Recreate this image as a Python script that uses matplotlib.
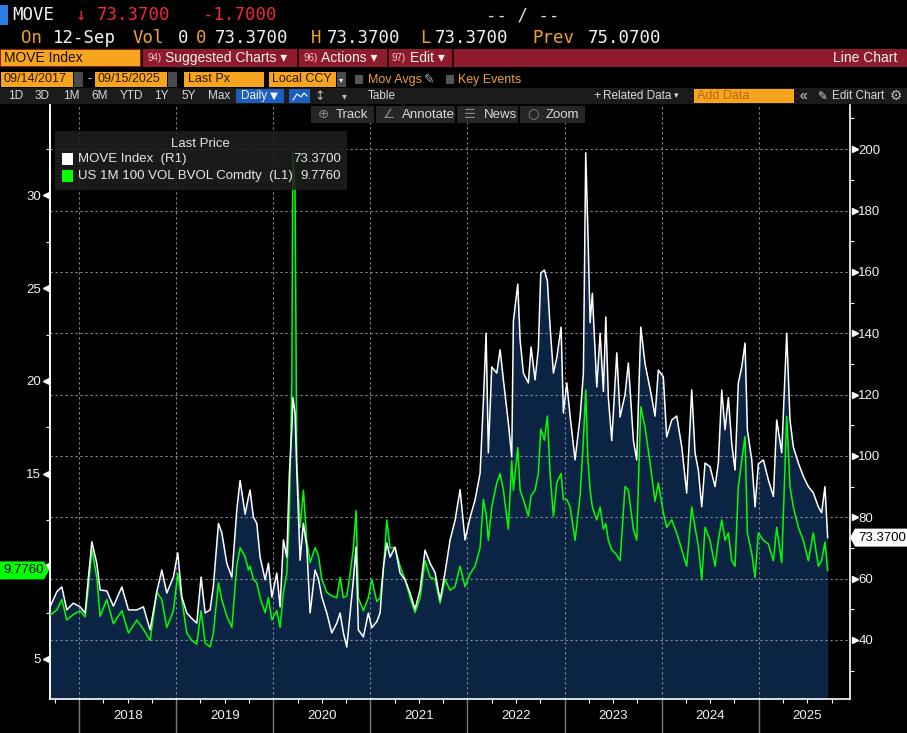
import matplotlib
matplotlib.use('Agg')
import matplotlib.pyplot as plt
from matplotlib.patches import Rectangle, Polygon
from matplotlib.lines import Line2D
import matplotlib.transforms as mtransforms
import numpy as np

# decimal years
t_years = [
    2017.701, 2017.770, 2017.822, 2017.873, 2017.940, 2018.010, 2018.062, 2018.096, 2018.131, 2018.182,
    2018.216, 2018.285, 2018.353, 2018.440, 2018.508, 2018.594, 2018.662, 2018.731, 2018.800, 2018.852,
    2018.903, 2018.971, 2019.016, 2019.058, 2019.109, 2019.161, 2019.212, 2019.256, 2019.298, 2019.349,
    2019.383, 2019.435, 2019.470, 2019.521, 2019.573, 2019.624, 2019.658, 2019.710, 2019.744, 2019.761,
    2019.795, 2019.830, 2019.864, 2019.916, 2019.950, 2019.985, 2020.036, 2020.070, 2020.104, 2020.139,
    2020.166, 2020.191, 2020.201, 2020.224, 2020.242, 2020.276, 2020.310, 2020.345, 2020.379, 2020.430,
    2020.464, 2020.500, 2020.551, 2020.602, 2020.654, 2020.688, 2020.722, 2020.757, 2020.791, 2020.825,
    2020.853, 2020.876, 2020.928, 2020.979, 2021.014, 2021.066, 2021.100, 2021.134, 2021.169, 2021.203,
    2021.254, 2021.306, 2021.357, 2021.409, 2021.460, 2021.512, 2021.563, 2021.615, 2021.666, 2021.718,
    2021.769, 2021.821, 2021.872, 2021.924, 2021.975, 2022.027, 2022.078, 2022.130, 2022.164, 2022.192,
    2022.215, 2022.250, 2022.302, 2022.336, 2022.370, 2022.421, 2022.456, 2022.473, 2022.518, 2022.542,
    2022.576, 2022.627, 2022.655, 2022.696, 2022.730, 2022.755, 2022.792, 2022.823, 2022.851, 2022.885,
    2022.920, 2022.964, 2022.988, 2023.023, 2023.057, 2023.108, 2023.160, 2023.194, 2023.218, 2023.239,
    2023.263, 2023.286, 2023.332, 2023.366, 2023.400, 2023.425, 2023.451, 2023.486, 2023.538, 2023.572,
    2023.623, 2023.657, 2023.709, 2023.743, 2023.785, 2023.829, 2023.880, 2023.932, 2023.966, 2024.017,
    2024.052, 2024.104, 2024.155, 2024.207, 2024.258, 2024.310, 2024.344, 2024.378, 2024.413, 2024.447,
    2024.498, 2024.550, 2024.584, 2024.619, 2024.653, 2024.687, 2024.722, 2024.756, 2024.790, 2024.825,
    2024.859, 2024.883, 2024.928, 2024.962, 2024.996, 2025.048, 2025.099, 2025.151, 2025.185, 2025.237,
    2025.288, 2025.322, 2025.356, 2025.408, 2025.459, 2025.511, 2025.562, 2025.614, 2025.648, 2025.682,
    2025.710,
]

# MOVE Index (right axis)
move_idx = [
    50.8, 55.7, 57.3, 49.8, 52.0, 50.8, 48.8, 60.5, 72.0, 65.0,
    56.3, 56.0, 51.0, 57.3, 49.8, 49.8, 50.8, 43.3, 55.7, 62.8,
    55.3, 60.5, 68.4, 54.0, 48.8, 47.0, 45.5, 60.5, 48.8, 49.8,
    57.6, 78.0, 74.9, 65.0, 60.5, 82.4, 92.0, 81.0, 86.6, 88.9,
    80.0, 78.0, 67.0, 59.6, 65.0, 54.0, 61.8, 50.8, 72.6, 67.0,
    94.4, 109.0, 119.0, 114.0, 95.0, 66.0, 78.0, 70.3, 48.8, 62.8,
    60.0, 54.0, 48.8, 42.3, 45.5, 48.8, 42.3, 37.7, 48.8, 59.6,
    70.3, 43.3, 41.0, 48.8, 44.0, 46.0, 48.8, 63.8, 71.6, 67.0,
    70.3, 61.8, 59.6, 55.3, 50.0, 56.4, 69.3, 65.0, 62.0, 53.0,
    62.0, 72.6, 79.0, 89.0, 72.6, 80.0, 85.6, 94.4, 118.0, 140.0,
    101.0, 129.0, 127.0, 134.6, 124.8, 110.8, 99.7, 144.0, 156.0, 137.8,
    127.0, 123.8, 135.5, 124.8, 135.0, 159.6, 160.6, 157.0, 142.0, 127.0,
    132.0, 142.0, 114.0, 123.8, 113.0, 98.7, 112.7, 127.0, 198.8, 174.7,
    143.4, 153.0, 122.5, 140.0, 121.0, 145.3, 119.0, 105.0, 133.6, 112.7,
    120.0, 130.3, 105.0, 98.7, 142.0, 130.0, 122.0, 113.0, 128.0, 125.8,
    106.2, 111.7, 113.0, 103.0, 87.9, 121.5, 101.0, 95.4, 83.4, 97.7,
    96.5, 90.0, 97.7, 121.5, 108.5, 119.0, 104.0, 95.4, 123.8, 129.0,
    136.8, 108.5, 98.7, 83.4, 97.4, 98.7, 92.2, 86.8, 111.7, 101.0,
    140.0, 111.7, 103.0, 97.7, 93.4, 90.0, 88.0, 83.4, 81.5, 90.0,
    73.37,
]

# US 1M 100 VOL BVOL Comdty (left axis)
bvol_1m = [
    7.37, 7.64, 8.2, 7.1, 7.4, 7.6, 7.27, 8.9, 10.9, 9.4,
    7.3, 8.2, 6.9, 7.6, 6.4, 7.1, 6.6, 6.0, 8.6, 8.2,
    6.7, 7.6, 9.6, 8.2, 6.4, 6.0, 5.8, 7.6, 5.86, 5.65,
    6.4, 9.1, 8.2, 7.3, 6.7, 10.0, 11.0, 10.5, 9.8, 10.0,
    9.3, 9.1, 8.3, 7.5, 8.3, 7.1, 7.6, 6.7, 8.6, 9.6,
    12.9, 20.0, 32.3, 30.3, 15.6, 12.1, 14.1, 11.4, 10.2, 11.0,
    10.6, 9.3, 8.6, 8.4, 8.3, 9.4, 8.3, 8.4, 9.6, 11.0,
    13.0, 8.3, 7.6, 8.3, 9.3, 8.1, 8.3, 9.8, 12.5, 11.0,
    11.0, 10.0, 9.3, 8.3, 7.5, 8.3, 10.3, 9.4, 9.3, 8.0,
    9.3, 8.7, 8.9, 10.0, 8.9, 9.6, 10.0, 11.0, 13.6, 12.8,
    11.4, 13.2, 14.5, 15.0, 14.1, 12.0, 15.7, 14.1, 16.4, 14.1,
    13.6, 12.7, 13.8, 14.1, 15.0, 17.4, 16.8, 18.1, 15.0, 12.7,
    14.5, 15.0, 13.6, 13.6, 13.2, 11.4, 13.8, 16.8, 19.5, 15.9,
    14.1, 13.2, 12.5, 13.2, 12.0, 12.3, 11.4, 10.9, 10.6, 10.3,
    14.3, 14.1, 12.0, 11.4, 18.6, 17.5, 15.6, 13.5, 14.5, 12.9,
    12.1, 12.5, 11.8, 10.9, 10.0, 13.2, 12.1, 11.1, 9.26, 12.1,
    11.4, 10.0, 11.4, 12.5, 11.4, 11.8, 10.3, 10.0, 14.3, 15.7,
    17.0, 11.8, 10.7, 9.4, 11.8, 11.4, 11.2, 10.3, 12.1, 10.2,
    18.1, 14.3, 13.2, 12.1, 11.4, 10.3, 11.8, 10.0, 10.3, 11.3,
    9.776,
]

year_labels = [2018, 2019, 2020, 2021, 2022, 2023, 2024, 2025]
right_ticks = [40, 60, 80, 100, 120, 140, 160, 180, 200]
left_ticks = [5, 10, 15, 20, 25, 30]

W, H = 907, 733
M_LO, M_HI = 20.76, 214.4
B_LO, B_HI = 2.84, 34.88
K = (B_HI - B_LO) / (M_HI - M_LO)


def m2b(m):
    return B_LO + (np.asarray(m) - M_LO) * K


def b2m(b):
    return M_LO + (np.asarray(b) - B_LO) / K


def ypix(m):
    # pixel row of a right-axis value (axes spans rows 105..699)
    return 699 - (m - M_LO) / (M_HI - M_LO) * 594


WHITE = '#f2f2f2'
ORANGE = '#f0a030'
RED = '#f0283c'
BOX_OR = '#f7a41f'
MONO = ['DejaVu Sans Mono', 'DejaVu Sans']
SANS = ['Liberation Sans', 'DejaVu Sans']
SYM = ['DejaVu Sans']

fig = plt.figure(figsize=(W / 100, H / 100), dpi=100, facecolor='black')


def box(x0, y0, x1, y1, color, **kw):
    fig.add_artist(Rectangle((x0 / W, 1 - y1 / H), (x1 - x0) / W, (y1 - y0) / H,
                             transform=fig.transFigure, facecolor=color,
                             edgecolor='none', **kw))


def txt(x, y, s, color, size, ha='left', family=SANS, **kw):
    fig.text(x / W, 1 - y / H, s, color=color, fontsize=size, ha=ha, va='center',
             family=family, **kw)


# ---- chart ----
ax = fig.add_axes([50 / W, 1 - 699 / H, 800 / W, 594 / H])
ax.set_facecolor('black')

t = np.array(t_years)
mv = np.array(move_idx)
bv_m = b2m(np.array(bvol_1m))

ax.fill_between(t, M_LO, np.maximum(mv, bv_m), color='#0c2444', lw=0, zorder=1)
ax.plot(t, bv_m, color='#00ff00', lw=1.1, zorder=3)
ax.plot(t, mv, color='white', lw=1.1, zorder=4)

ax.set_xlim(2017.70, 2025.94)
ax.set_ylim(M_LO, M_HI)
ax.set_axisbelow('line')

for s in ['left', 'right', 'bottom']:
    ax.spines[s].set_color('white')
    ax.spines[s].set_linewidth(1.2)
ax.spines['top'].set_visible(False)

# right axis: MOVE
ax.yaxis.tick_right()
ax.set_yticks(right_ticks)
ax.set_yticks(np.arange(30, 211, 10), minor=True)
ax.tick_params(axis='y', which='major', length=0, pad=6, labelcolor=WHITE, labelsize=9.5)
ax.tick_params(axis='y', which='minor', length=3, color='white', width=0.8)
for lab in ax.get_yticklabels():
    lab.set_family(SANS)

# left axis: BVOL (the 10 label sits under the last-value tag)
sec = ax.secondary_yaxis('left', functions=(m2b, b2m))
sec.set_yticks(left_ticks, labels=['' if v == 10 else str(v) for v in left_ticks])
sec.set_yticks(np.arange(2.5, 35, 2.5), minor=True)
sec.tick_params(which='major', length=0, pad=6.5, labelcolor=WHITE, labelsize=9.5)
sec.tick_params(which='minor', length=3, color='white', width=0.8)
sec.spines['left'].set_color('white')
sec.spines['left'].set_linewidth(1.2)
for lab in sec.get_yticklabels():
    lab.set_family(SANS)

# little triangles on the major ticks
tr_r = mtransforms.blended_transform_factory(ax.transAxes, ax.transData) + \
    mtransforms.ScaledTranslation(0.045, 0, fig.dpi_scale_trans)
tr_l = mtransforms.blended_transform_factory(ax.transAxes, ax.transData) + \
    mtransforms.ScaledTranslation(-0.045, 0, fig.dpi_scale_trans)
ax.plot(np.ones(len(right_ticks)), right_ticks, ls='none', marker='>', ms=4,
        color='white', clip_on=False, transform=tr_r)
ax.plot(np.zeros(len(left_ticks)), b2m(left_ticks), ls='none', marker='<', ms=4,
        color='white', clip_on=False, transform=tr_l)

# grid
ax.set_xticks(year_labels)
ax.set_xticks(np.arange(2017.75, 2026, 0.25), minor=True)
ax.tick_params(axis='x', which='major', length=25, color='#7c7c7c', width=1, labelbottom=False)
ax.tick_params(axis='x', which='minor', length=3, color='white', width=0.8)
ax.grid(True, which='major', color='#8a8a9a', lw=0.8, ls=(0, (2, 2.5)))

xl_tr = mtransforms.blended_transform_factory(ax.transData, ax.transAxes)
for yr in year_labels:
    ax.text(yr + 0.5, -0.029, str(yr), transform=xl_tr, ha='center', va='center',
            color=WHITE, fontsize=9.5, family=SANS)

# ---- header ----
box(0, 5, 8, 25, '#2a7de1')
txt(12, 15, 'MOVE', WHITE, 12.5, family=MONO)
txt(76, 15, '\u2193', RED, 12.5, family=MONO)
txt(97, 15, '73.3700', RED, 12.5, family=MONO)
txt(203, 15, '-1.7000', RED, 12.5, family=MONO)
txt(486, 15, '-- / --', '#d8d8d8', 12.5, family=MONO)

row2 = [(21, 'On', ORANGE), (53, '12-Sep', WHITE), (133, 'Vol', ORANGE),
        (178, '0', WHITE), (196, '0', ORANGE), (215, '73.3700', WHITE),
        (311, 'H', ORANGE), (327, '73.3700', WHITE), (420, 'L', ORANGE),
        (435, '73.3700', WHITE), (532, 'Prev', ORANGE), (588, '75.0700', WHITE)]
for x, s, c in row2:
    txt(x, 38, s, c, 12.5, family=MONO)

# menu bar
box(0, 49, W, 67, '#8e1b2c')
for x in [141, 297, 387, 452]:
    box(x, 49, x + 2, 67, '#2a0508')
box(1, 50, 140, 66, BOX_OR)
txt(4, 58, 'MOVE Index', '#1a1000', 10)
txt(147, 58, '94)', '#f0c8c8', 7)
txt(165, 58, 'Suggested Charts \u25be', WHITE, 10)
txt(303, 58, '96)', '#f0c8c8', 7)
txt(321, 58, 'Actions \u25be', WHITE, 10)
txt(392, 58, '97)', '#f0c8c8', 7)
txt(410, 58, 'Edit \u25be', WHITE, 10)
txt(897, 58, 'Line Chart', WHITE, 10, ha='right')

# date row
DARK = '#2a1800'
box(1, 72, 73, 87, BOX_OR)
txt(3, 79.5, '09/14/2017', DARK, 9)
box(74, 72, 83, 87, '#4a4a4a')
txt(88, 79.5, '-', WHITE, 9)
box(95, 72, 167, 87, BOX_OR)
txt(97, 79.5, '09/15/2025', DARK, 9)
box(168, 72, 177, 87, '#4a4a4a')
box(184, 72, 264, 87, BOX_OR)
txt(188, 79.5, 'Last Px', DARK, 9)
box(269, 72, 336, 87, BOX_OR)
txt(272, 79.5, 'Local CCY', DARK, 9)
box(337, 72, 346, 87, '#4a4a4a')
txt(341.5, 79.5, '\u25be', WHITE, 6, ha='center', family=SYM)
box(355, 75, 363, 84, '#555555')
txt(368, 79.5, 'Mov Avgs', ORANGE, 9)
txt(424, 79.5, '\u270e', '#aaaaaa', 9, family=SYM)
box(446, 75, 454, 84, '#555555')
txt(458, 79.5, 'Key Events', ORANGE, 9)

# range buttons row
box(0, 88, W, 104, '#1b1b1b')
for x, s in [(8, '1D'), (35, '3D'), (63, '1M'), (91, '6M'), (120, 'YTD'),
             (154, '1Y'), (181, '5Y'), (208, 'Max')]:
    txt(x, 96, s, '#d8d8d8', 8.5)
box(236, 89, 284, 103, '#1b5fbf')
txt(241, 96, 'Daily', WHITE, 8.5)
txt(270, 96, '\u25bc', WHITE, 7.5, family=SYM)
box(289, 89, 310, 103, '#1b5fbf')
fig.add_artist(Line2D(np.array([293, 297, 301, 304, 307]) / W,
                      1 - np.array([100, 94, 97, 93, 96]) / H,
                      color='white', lw=0.8, transform=fig.transFigure))
txt(314, 96, '\u2195', '#bbbbbb', 9, family=SYM)
txt(342, 96, '\u25be', '#bbbbbb', 7, family=SYM)
txt(368, 96, 'Table', '#d8d8d8', 8.5)
txt(593, 96, '+', '#d8d8d8', 9)
txt(603, 96, 'Related Data', '#d8d8d8', 8.5)
txt(674, 96, '\u25be', '#d8d8d8', 6.5, family=SYM)
box(694, 89, 794, 103, BOX_OR)
txt(697, 96, 'Add Data', '#b86a10', 9)
txt(800, 96, '\u00ab', '#d8d8d8', 10)
txt(818, 96, '\u270e', '#d8d8d8', 8.5, family=SYM)
txt(832, 96, 'Edit Chart', '#d8d8d8', 8.5)
txt(896, 96, '\u2699', '#bbbbbb', 10, ha='center', family=SYM)

# chart tools row
for x0, x1 in [(311, 374), (376, 455), (457, 518), (520, 585)]:
    box(x0, 106, x1, 123, '#262626')
for x, s, c in [(318, '\u2295', '#8a8a8a'), (336, 'Track', '#d8d8d8'),
                (383, '\u2220', '#8a8a8a'), (402, 'Annotate', '#d8d8d8'),
                (464, '\u2630', '#8a8a8a'), (484, 'News', '#d8d8d8'),
                (527, '\u25cb', '#8a8a8a'), (546, 'Zoom', '#d8d8d8')]:
    txt(x, 114.5, s, c, 9.5, family=SYM if len(s) == 1 else SANS)

# legend
box(55, 131, 347, 190, '#1e1e1e', alpha=0.88)
txt(200, 144, 'Last Price', '#e6e6e6', 9.5, ha='center')
box(62, 153, 73, 165, 'white')
box(62, 170, 73, 182, '#00ff00')
txt(78, 159, 'MOVE Index  (R1)', '#e6e6e6', 9.5)
txt(78, 176, 'US 1M 100 VOL BVOL Comdty  (L1)', '#e6e6e6', 9.5)
txt(341, 159, f'{move_idx[-1]:.4f}', '#e6e6e6', 9.5, ha='right')
txt(341, 176, f'{bvol_1m[-1]:.4f}', '#e6e6e6', 9.5, ha='right')

# last value tags
yc = ypix(b2m(bvol_1m[-1]))
fig.add_artist(Polygon(np.array([[0, yc - 9], [44, yc - 9], [49, yc], [44, yc + 9], [0, yc + 9]]) / [W, H] * [1, -1] + [0, 1],
                       closed=True, facecolor='#00ff00', edgecolor='none', transform=fig.transFigure))
txt(3, yc, f'{bvol_1m[-1]:.4f}', 'black', 9.5)
yc = ypix(move_idx[-1])
fig.add_artist(Polygon(np.array([[850, yc], [855, yc - 9], [907, yc - 9], [907, yc + 9], [855, yc + 9]]) / [W, H] * [1, -1] + [0, 1],
                       closed=True, facecolor='white', edgecolor='none', transform=fig.transFigure))
txt(858, yc, f'{move_idx[-1]:.4f}', 'black', 9.5)

fig.savefig('out.png', dpi=100, facecolor='black')
